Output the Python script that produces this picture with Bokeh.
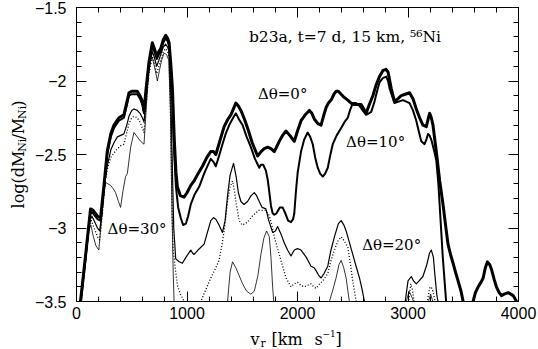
import math
from bokeh.plotting import figure
from bokeh.models import Range1d, LinearAxis, SingleIntervalTicker, Label, CustomJSTickFormatter, ColumnDataSource
from bokeh.core.properties import value
from bokeh.embed import file_html
from bokeh.resources import INLINE

# ---------------- data ----------------
# Delta theta = 0 deg (thickest)
v_0 = [20, 36, 80, 127, 150, 190, 218, 250, 278, 310, 339, 384, 429, 475, 500, 520, 550, 575, 596, 611, 630, 656, 686, 705, 726, 745, 762, 785, 807, 825, 838, 853, 868, 885, 900, 913, 940, 973, 1000, 1034, 1064, 1100, 1140, 1180, 1215, 1240, 1261, 1300, 1336, 1370, 1397, 1420, 1442, 1465, 1488, 1520, 1548, 1590, 1639, 1670, 1699, 1730, 1760, 1790, 1810, 1835, 1865, 1896, 1930, 1971, 2000, 2032, 2070, 2107, 2130, 2153, 2185, 2213, 2235, 2259, 2280, 2304, 2330, 2349, 2370, 2395, 2420, 2455, 2485, 2515, 2545, 2576, 2600, 2621, 2650, 2682, 2710, 2742, 2772, 2800, 2820, 2848, 2878, 2910, 2939, 2975, 3014, 3045, 3075, 3105, 3135, 3166, 3185, 3196, 3211, 3226, 3256, 3287, 3317, 3340, 3362, 3385, 3408, 3430, 3453, 3480, 3499, 3520, 3570, 3589, 3610, 3635, 3660, 3680, 3700, 3719, 3740, 3755, 3780, 3800, 3825, 3846, 3870, 3906, 3930, 3952, 3975, 3995]
m_0 = [-3.6, -3.5, -3.2, -2.87, -2.88, -2.92, -2.93, -2.7, -2.48, -2.36, -2.30, -2.25, -2.23, -2.08, -2.07, -2.07, -2.07, -2.1, -2.14, -2.2, -2.05, -1.87, -1.74, -1.78, -1.83, -1.80, -1.78, -1.72, -1.69, -1.71, -1.74, -1.88, -2.05, -2.4, -2.62, -2.72, -2.78, -2.79, -2.76, -2.71, -2.68, -2.63, -2.58, -2.52, -2.48, -2.48, -2.5, -2.4, -2.31, -2.26, -2.23, -2.19, -2.15, -2.17, -2.2, -2.26, -2.32, -2.42, -2.51, -2.48, -2.46, -2.45, -2.46, -2.48, -2.45, -2.41, -2.37, -2.34, -2.37, -2.41, -2.34, -2.27, -2.23, -2.2, -2.22, -2.26, -2.29, -2.30, -2.24, -2.18, -2.15, -2.13, -2.09, -2.07, -2.07, -2.09, -2.11, -2.13, -2.15, -2.16, -2.16, -2.16, -2.19, -2.22, -2.16, -2.10, -2.03, -1.97, -1.93, -1.92, -1.94, -2.05, -2.14, -2.12, -2.10, -2.09, -2.08, -2.12, -2.19, -2.25, -2.30, -2.31, -2.25, -2.22, -2.25, -2.30, -2.48, -2.68, -2.84, -2.98, -3.11, -3.18, -3.24, -3.30, -3.36, -3.43, -3.5, -3.6, -3.6, -3.5, -3.44, -3.40, -3.37, -3.34, -3.27, -3.23, -3.25, -3.28, -3.35, -3.40, -3.44, -3.46, -3.45, -3.44, -3.45, -3.46, -3.49, -3.52]

# Delta theta = 10 deg
v_10 = [20, 36, 80, 127, 150, 190, 218, 250, 278, 310, 339, 384, 429, 475, 500, 520, 550, 575, 596, 611, 630, 656, 686, 705, 726, 745, 762, 785, 807, 825, 838, 853, 868, 885, 900, 920, 943, 965, 990, 1010, 1034, 1070, 1110, 1160, 1215, 1240, 1261, 1290, 1321, 1350, 1382, 1410, 1442, 1470, 1503, 1540, 1578, 1615, 1654, 1669, 1690, 1714, 1730, 1744, 1760, 1775, 1790, 1810, 1840, 1865, 1890, 1915, 1941, 1960, 1971, 1986, 2002, 2032, 2060, 2092, 2115, 2138, 2160, 2183, 2205, 2229, 2250, 2274, 2295, 2319, 2355, 2395, 2425, 2455, 2475, 2500, 2530, 2561, 2590, 2621, 2645, 2667, 2697, 2720, 2742, 2772, 2803, 2820, 2833, 2855, 2878, 2915, 2954, 2985, 3014, 3045, 3075, 3100, 3120, 3150, 3170, 3181, 3195, 3211, 3235, 3256, 3275, 3295, 3315, 3330, 3345, 3360]
m_10 = [-3.6, -3.5, -3.21, -2.89, -2.9, -2.94, -2.95, -2.72, -2.50, -2.38, -2.32, -2.27, -2.25, -2.10, -2.09, -2.09, -2.09, -2.12, -2.16, -2.22, -2.07, -1.89, -1.76, -1.80, -1.85, -1.82, -1.80, -1.74, -1.71, -1.73, -1.76, -1.92, -2.15, -2.5, -2.72, -2.86, -2.93, -2.98, -2.97, -2.92, -2.84, -2.77, -2.72, -2.62, -2.53, -2.55, -2.58, -2.51, -2.43, -2.36, -2.30, -2.26, -2.22, -2.26, -2.30, -2.38, -2.45, -2.53, -2.59, -2.57, -2.57, -2.61, -2.67, -2.75, -2.85, -2.9, -2.91, -2.9, -2.86, -2.86, -2.9, -2.95, -2.96, -2.94, -2.9, -2.75, -2.62, -2.48, -2.4, -2.35, -2.38, -2.43, -2.52, -2.59, -2.63, -2.65, -2.63, -2.59, -2.51, -2.43, -2.37, -2.32, -2.28, -2.25, -2.2, -2.15, -2.15, -2.17, -2.2, -2.23, -2.22, -2.21, -2.14, -2.07, -2.01, -1.98, -1.97, -2.0, -2.05, -2.1, -2.15, -2.14, -2.13, -2.14, -2.15, -2.2, -2.27, -2.35, -2.41, -2.43, -2.39, -2.36, -2.37, -2.40, -2.47, -2.54, -2.7, -2.95, -3.2, -3.35, -3.5, -3.6]

# Delta theta = 20 deg (thin solid)
v_20 = [20, 40, 80, 120, 140, 160, 190, 210, 230, 255, 278, 310, 339, 370, 400, 429, 455, 475, 500, 520, 550, 575, 596, 611, 630, 656, 686, 705, 726, 745, 762, 785, 807, 825, 838, 853, 868, 880, 898, 930, 958, 990, 1034, 1050, 1064, 1100, 1155, 1185, 1215, 1240, 1261, 1290, 1321, 1345, 1367, 1390, 1421, 1445, 1465, 1488, 1515, 1548, 1580, 1609, 1630, 1654, 1680, 1714, 1740, 1775, 1800, 1820, 1850, 1880, 1910, 1941, 1971, 2000, 2032, 2080, 2122, 2150, 2168, 2190, 2213, 2240, 2274, 2300, 2334, 2370, 2395, 2420, 2440, 2470, 2500, 2530, 2561, 2585, 2606, 2630, 2950, 2975, 3000, 3030, 3050, 3075, 3100, 3135, 3170, 3195, 3211, 3230, 3241, 3260, 3271, 3290]
m_20 = [-3.6, -3.5, -3.22, -2.95, -2.92, -2.95, -3.0, -3.02, -2.9, -2.7, -2.58, -2.47, -2.42, -2.38, -2.37, -2.36, -2.3, -2.24, -2.2, -2.19, -2.2, -2.22, -2.25, -2.28, -2.12, -1.92, -1.8, -1.84, -1.9, -1.86, -1.82, -1.77, -1.75, -1.77, -1.8, -2.1, -2.6, -3.0, -3.21, -3.23, -3.24, -3.2, -3.15, -3.17, -3.18, -3.15, -3.11, -3.03, -2.95, -2.93, -2.94, -2.98, -3.03, -2.95, -2.78, -2.64, -2.56, -2.65, -2.76, -2.82, -2.84, -2.82, -2.78, -2.76, -2.78, -2.82, -2.86, -2.87, -2.95, -3.03, -3.02, -2.99, -3.04, -3.1, -3.15, -3.19, -3.15, -3.14, -3.15, -3.2, -3.26, -3.27, -3.29, -3.32, -3.34, -3.31, -3.26, -3.16, -3.06, -2.97, -2.95, -2.98, -3.02, -3.1, -3.18, -3.26, -3.34, -3.42, -3.5, -3.6, -3.6, -3.5, -3.36, -3.33, -3.36, -3.38, -3.36, -3.33, -3.25, -3.17, -3.15, -3.2, -3.3, -3.45, -3.5, -3.6]

# Delta theta = 25 deg (dotted)
v_25 = [20, 42, 80, 115, 135, 160, 190, 210, 235, 260, 285, 310, 339, 370, 400, 429, 455, 475, 500, 520, 550, 575, 596, 611, 630, 656, 686, 705, 726, 745, 762, 785, 807, 825, 838, 853, 865, 875, 898, 913, 940, 975, 1000, 1100, 1125, 1170, 1215, 1255, 1290, 1315, 1336, 1367, 1390, 1412, 1430, 1442, 1472, 1500, 1530, 1560, 1590, 1620, 1650, 1680, 1710, 1740, 1765, 1790, 1820, 1850, 1896, 1941, 1970, 2002, 2030, 2062, 2090, 2122, 2145, 2168, 2200, 2229, 2274, 2300, 2334, 2365, 2395, 2425, 2455, 2480, 2500, 2531, 2550, 2990, 3005, 3025, 3040, 3055, 3070, 3160, 3175, 3195, 3210, 3225, 3245, 3260]
m_25 = [-3.6, -3.5, -3.23, -2.98, -2.95, -3.0, -3.06, -3.08, -2.9, -2.68, -2.58, -2.52, -2.49, -2.46, -2.44, -2.43, -2.35, -2.29, -2.25, -2.24, -2.25, -2.28, -2.32, -2.35, -2.16, -1.95, -1.83, -1.88, -1.95, -1.9, -1.86, -1.8, -1.78, -1.8, -1.84, -2.3, -2.9, -3.15, -3.3, -3.39, -3.45, -3.5, -3.6, -3.6, -3.5, -3.42, -3.34, -3.28, -3.22, -3.12, -3.02, -2.82, -2.72, -2.68, -2.75, -2.82, -2.95, -2.98, -2.97, -2.95, -2.92, -2.9, -2.88, -2.88, -2.88, -2.91, -2.97, -3.06, -3.14, -3.22, -3.34, -3.40, -3.38, -3.37, -3.39, -3.40, -3.39, -3.38, -3.40, -3.41, -3.38, -3.36, -3.31, -3.23, -3.15, -3.09, -3.06, -3.09, -3.13, -3.25, -3.36, -3.5, -3.6, -3.6, -3.5, -3.38, -3.42, -3.5, -3.6, -3.6, -3.5, -3.41, -3.40, -3.43, -3.5, -3.6]

# Delta theta = 30 deg (thinnest)
v_30 = [20, 45, 80, 110, 130, 150, 175, 202, 225, 245, 263, 285, 308, 330, 354, 380, 399, 420, 444, 460, 490, 520, 550, 580, 611, 630, 650, 671, 686, 705, 732, 750, 770, 792, 815, 835, 850, 862, 875, 883, 890, 1350, 1367, 1390, 1412, 1442, 1470, 1503, 1540, 1578, 1609, 1640, 1669, 1695, 1720, 1745, 1760, 1775, 1785, 1800, 2280, 2289, 2320, 2349, 2375, 2395, 2418, 2440, 2460, 2470, 2480, 2970, 2985, 3010, 3035, 3050, 3060, 3170, 3185, 3205, 3225, 3235]
m_30 = [-3.6, -3.5, -3.26, -3.02, -2.98, -3.05, -3.12, -3.15, -2.95, -2.78, -2.69, -2.7, -2.71, -2.73, -2.76, -2.82, -2.86, -2.75, -2.65, -2.63, -2.45, -2.35, -2.38, -2.41, -2.43, -2.2, -1.95, -1.86, -1.84, -1.9, -2.0, -1.93, -1.86, -1.81, -1.82, -1.86, -2.2, -2.8, -3.3, -3.5, -3.6, -3.6, -3.5, -3.3, -3.23, -3.27, -3.32, -3.38, -3.43, -3.45, -3.43, -3.33, -3.18, -3.07, -3.02, -3.06, -3.2, -3.4, -3.5, -3.6, -3.6, -3.5, -3.42, -3.34, -3.25, -3.22, -3.27, -3.34, -3.45, -3.5, -3.6, -3.6, -3.5, -3.43, -3.47, -3.5, -3.6, -3.6, -3.5, -3.45, -3.5, -3.6]

series = [
    (v_0, m_0, 3.0, "solid"),
    (v_10, m_10, 2.0, "solid"),
    (v_20, m_20, 1.2, "solid"),
    (v_25, m_25, 1.3, "1 2"),
    (v_30, m_30, 0.8, "solid"),
]

# curve labels: (text, x, y) in data coordinates
curve_labels = [
    ("\u0394\u03b8=0\u00b0", 1642, -2.09),
    ("\u0394\u03b8=10\u00b0", 2440, -2.415),
    ("\u0394\u03b8=20\u00b0", 2585, -3.114),
    ("\u0394\u03b8=30\u00b0", 281, -3.005),
]
title_text = "b23a,  t=7 d,  15 km,  \u2075\u2076Ni"

# ---------------- layout ----------------
W, H = 538, 349
FL, FR, FT, FB = 76, 518, 7, 301   # frame edges in canvas px
XMIN, XMAX, YMIN, YMAX = 0, 4000, -3.5, -1.5

def X(px):
    return XMIN + (px - FL) / (FR - FL) * (XMAX - XMIN)

def Y(py):
    return YMIN + (FB - py) / (FB - FT) * (YMAX - YMIN)

p = figure(width=W, height=H, x_range=Range1d(XMIN, XMAX), y_range=Range1d(YMIN, YMAX),
           output_backend="svg", toolbar_location=None,
           min_border_left=FL, min_border_right=W - FR, min_border_top=FT, min_border_bottom=H - FB,
           x_axis_type=None, y_axis_type=None)
p.grid.visible = False
p.outline_line_color = "black"
p.outline_line_width = 1
p.background_fill_color = "white"
p.border_fill_color = "white"

fmt = CustomJSTickFormatter(code="return (tick < 0 ? '\u2212' : '') + String(Math.abs(tick));")

def make_axis(dim, show_labels):
    if dim == "x":
        tk = SingleIntervalTicker(interval=1000, num_minor_ticks=5)
    else:
        tk = SingleIntervalTicker(interval=0.5, num_minor_ticks=5)
    ax = LinearAxis(ticker=tk, formatter=fmt)
    ax.axis_line_color = "black"
    ax.axis_line_width = 1
    ax.major_tick_in = 10
    ax.major_tick_out = 0
    ax.minor_tick_in = 5
    ax.minor_tick_out = 0
    ax.major_tick_line_color = "black"
    ax.minor_tick_line_color = "black"
    ax.major_tick_line_width = 1
    ax.minor_tick_line_width = 1
    if show_labels:
        ax.major_label_text_font = "Liberation Sans"
        ax.major_label_text_font_size = "16px"
        ax.major_label_text_color = "black"
        ax.major_label_standoff = 10 if dim == "y" else 5
    else:
        ax.major_label_text_font_size = "0px"
        ax.major_label_text_color = None
        ax.major_label_standoff = 0
    return ax

p.add_layout(make_axis("x", True), "below")
p.add_layout(make_axis("y", True), "left")
p.add_layout(make_axis("x", False), "above")
p.add_layout(make_axis("y", False), "right")

for xs, ys, lw, dash in series:
    p.line(xs, ys, line_color="black", line_width=lw, line_dash=dash, line_join="round")

SERIF = "DejaVu Serif"
for txt, x, y in curve_labels:
    p.add_layout(Label(x=x, y=y, text=txt, text_font=SERIF, text_font_size="15px",
                       text_color="black", text_align="left", text_baseline="middle"))
p.add_layout(Label(x=1560, y=-1.70, text=title_text, text_font=SERIF, text_font_size="15.5px",
                   text_color="black", text_align="left", text_baseline="middle"))

# ---- axis titles built from pieces (sub/superscripts), drawn as an overlay text glyph ----
ax_x, ax_y, ax_t, ax_s, ax_a = [], [], [], [], []

# y title: log(dM_Ni/M_Ni), rotated, reading upwards
ybase = 18
ypieces = [("log(dM", 16, 0, 56.7), ("Ni", 11, 3.5, 12.2), ("/M", 16, 0, 20.6),
           ("Ni", 11, 3.5, 12.2), (")", 16, 0, 6.2)]
total = sum(pc[3] for pc in ypieces)
cur = (FT + FB) / 2 + total / 2
for txt, fs, shift, w in ypieces:
    ax_x.append(X(ybase + shift)); ax_y.append(Y(cur)); ax_t.append(txt)
    ax_s.append(f"{fs}px"); ax_a.append(math.pi / 2)
    cur -= w

# x title: v_r [km s^-1]
xbase = 339
xpieces = [("v", 16, 250, 0), ("r", 11, 260, 3.5), ("[km", 16, 271, 0), ("s", 16, 314, 0),
           ("\u22121", 9, 322, -6), ("]", 16, 335, 0)]
for txt, fs, px, shift in xpieces:
    ax_x.append(X(px)); ax_y.append(Y(xbase + shift)); ax_t.append(txt)
    ax_s.append(f"{fs}px"); ax_a.append(0.0)

src = ColumnDataSource(dict(x=ax_x, y=ax_y, text=ax_t, size=ax_s, angle=ax_a))
p.text(x="x", y="y", text="text", source=src, text_font=value(SERIF), text_font_size="size",
       angle="angle", text_align="left", text_baseline="alphabetic", text_color="black",
       level="overlay")

open("out.html", "w").write(file_html(p, INLINE))
